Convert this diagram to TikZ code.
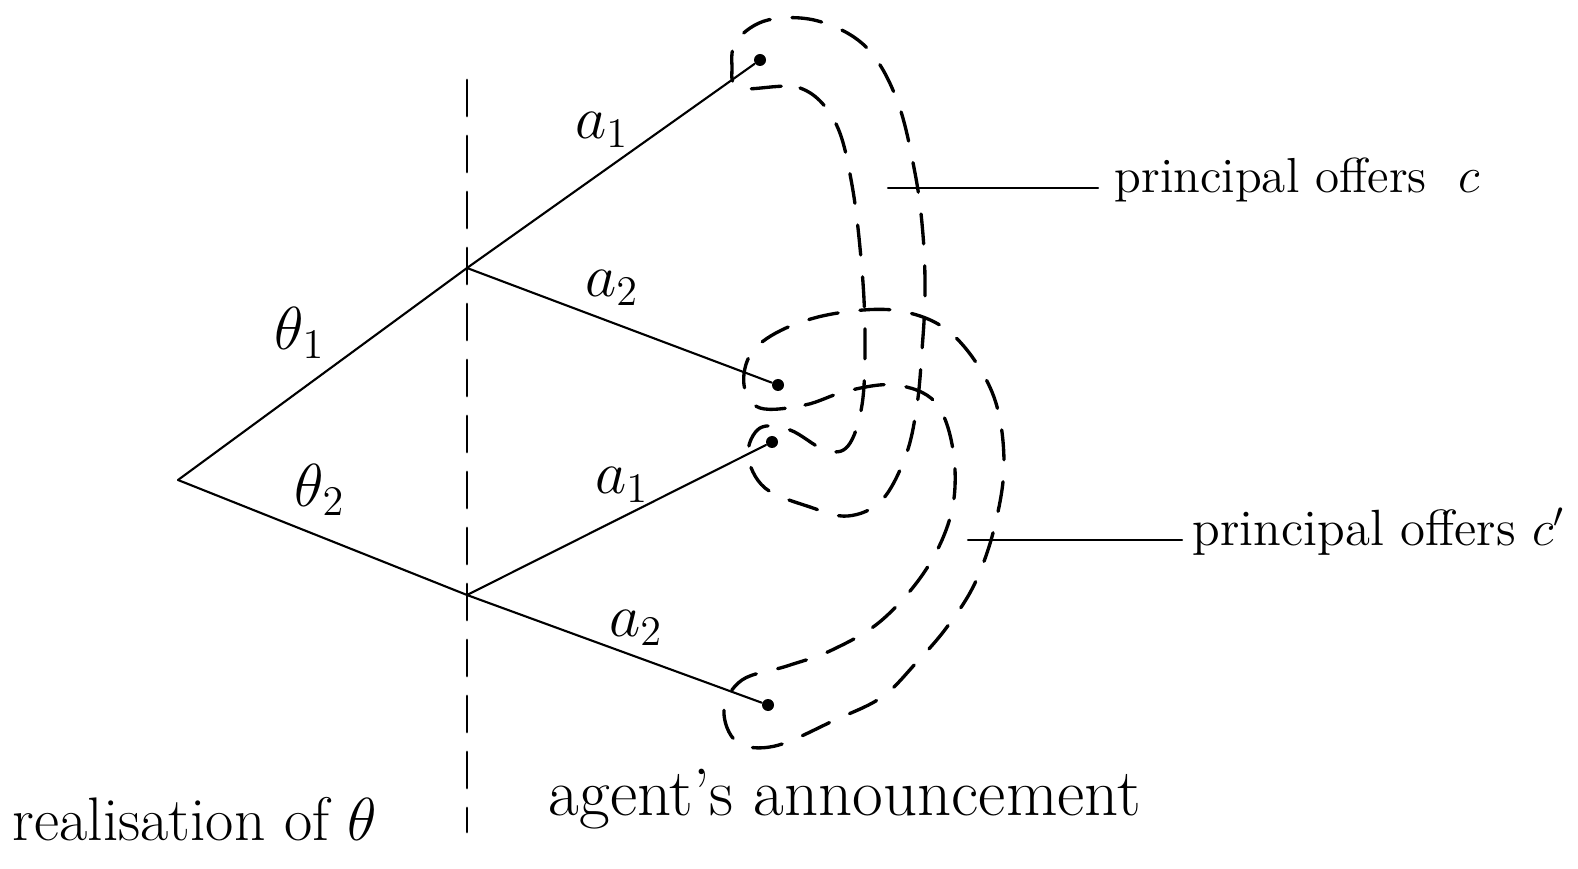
\documentclass[tikz,border=0pt]{standalone}
\usetikzlibrary{positioning}
\begin{document}
\begin{tikzpicture}[x=0.1mm,y=-0.1mm,line cap=round,
 leaf/.style={circle,fill,inner sep=0pt,minimum size=1.2mm},
 junc/.style={coordinate},
 branch/.style={line width=0.6pt},
 infoset/.style={line width=0.95pt,dash pattern=on 3mm off 2.2mm},
 divider/.style={line width=0.8pt,dash pattern=on 3.6mm off 2mm},
 lab/.style={font=\fontsize{17}{20}\selectfont,inner sep=0pt},
 note/.style={anchor=base west,inner sep=0pt}]
\useasboundingbox (0,0) rectangle (1578,869);
% tree
\node[junc] (r) at (178,480) {};
\node[junc] (t1) at (467,268) {};
\node[junc] (t2) at (467,595) {};
\node[leaf] (l11) at (760,60) {};
\node[leaf] (l12) at (778,385) {};
\node[leaf] (l21) at (772,442) {};
\node[leaf] (l22) at (768,705) {};
\draw[branch] (r)--(t1);
\draw[branch] (r)--(t2);
\draw[branch] (t1)--(l11);
\draw[branch] (t1)--(l12);
\draw[branch] (t2)--(l21);
\draw[branch] (t2)--(l22);
\node[lab] (th1) at (300,333) {$\theta_1$};
\node[lab] (th2) at (320,490) {$\theta_2$};
\node[lab] (a11) at (602,130) {$a_1$};
\node[lab] (a12) at (612,288) {$a_2$};
\node[lab] (a21) at (622,485) {$a_1$};
\node[lab] (a22) at (636,628) {$a_2$};
% stage divider
\coordinate (vt) at (467,80);
\coordinate (vb) at (467,832);
\draw[divider] (vt)--(vb);
% information sets
\draw[infoset] plot[smooth cycle,tension=0.6] coordinates {(740,88) (800,88) (835,122) (852,185) (862,270) (865,340) (862,405) (848,446) (825,450) (790,430) (760,428) (748,455) (765,488) (810,507) (848,516) (882,500) (906,455) (917,405) (922,350) (925,295) (923,235) (915,173) (897,100) (866,47) (818,21) (768,20) (737,40) (732,66)};
\draw[infoset] plot[smooth cycle,tension=0.6] coordinates {(760,408) (805,405) (847,391) (895,385) (935,402) (953,450) (952,510) (927,568) (882,620) (832,650) (787,666) (742,680) (724,710) (737,742) (775,746) (835,720) (882,697) (916,663) (947,627) (975,583) (995,525) (1004,460) (992,392) (952,334) (900,311) (838,313) (786,328) (752,352) (744,385)};
% offers
\coordinate (c1) at (888,188);
\coordinate (c2) at (968,540);
\node[note,font=\fontsize{14}{17}\selectfont] (off1) at (1114,193) {principal offers \ $c$};
\node[note,font=\fontsize{14.5}{17}\selectfont] (off2) at (1192,546) {principal offers $c'$};
\draw[branch] (c1)--([xshift=-1.6mm]c1-|off1.west);
\draw[branch] (c2)--([xshift=-1mm]c2-|off2.west);
% stages
\node[note,font=\fontsize{17.5}{21}\selectfont] (st1) at (12,840) {realisation of $\theta$};
\node[note,font=\fontsize{19}{23}\selectfont] (st2) at (548,815) {agent's announcement};
\end{tikzpicture}
\end{document}
